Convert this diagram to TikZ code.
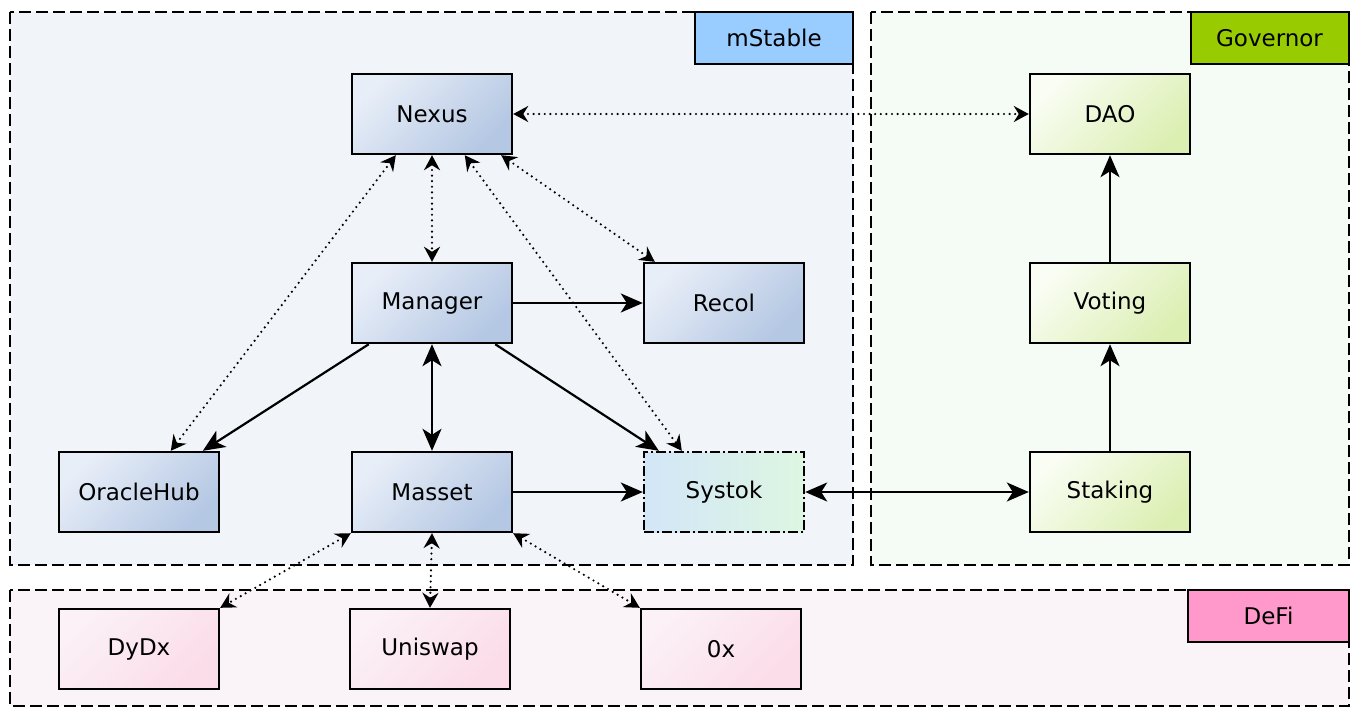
\documentclass[tikz,border=0pt]{standalone}
\usepackage{fontspec}
\usetikzlibrary{arrows.meta,calc}
\newfontfamily\nodefont{DejaVu Sans}
\definecolor{msfill}{HTML}{F1F4F9}
\definecolor{govfill}{HTML}{F5FCF5}
\definecolor{defifill}{HTML}{FAF3F7}
\definecolor{mslab}{HTML}{99CCFF}
\definecolor{govlab}{HTML}{99CC00}
\definecolor{defilab}{HTML}{FF99CC}
\definecolor{msA}{HTML}{E8EEF8}
\definecolor{msB}{HTML}{B4C7E3}
\definecolor{govA}{HTML}{F9FDF3}
\definecolor{govB}{HTML}{DCEFB3}
\definecolor{defiA}{HTML}{FBF1F6}
\definecolor{defiB}{HTML}{FBDCE9}
\definecolor{sysA}{HTML}{D3E6F8}
\definecolor{sysB}{HTML}{DDF6E2}
\tikzset{
  cluster/.style={draw=black, line width=1.1pt, dash pattern=on 6pt off 2.5pt},
  lab/.style={draw=black, line width=1pt, minimum width=79pt, minimum height=26pt, inner sep=0pt,
    font=\nodefont\fontsize{11.5}{14}\selectfont},
  box/.style={draw=black, line width=1.2pt, minimum width=80pt, minimum height=40pt, inner sep=0pt,
    font=\nodefont\fontsize{11.5}{14}\selectfont},
  msbox/.style={box, top color=msA, bottom color=msB, shading angle=45},
  govbox/.style={box, top color=govA, bottom color=govB, shading angle=45},
  defibox/.style={box, top color=defiA, bottom color=defiB, shading angle=45},
  sysbox/.style={box, top color=sysA, bottom color=sysB, shading angle=90, dash pattern=on 5pt off 1.5pt on 1pt off 1.5pt},
  solidarrow/.style={line width=1.1pt, -{Stealth[length=11pt,width=9.5pt,inset=3pt]}},
  solidboth/.style={line width=1.1pt, {Stealth[length=11pt,width=9.5pt,inset=3pt]}-{Stealth[length=11pt,width=9.5pt,inset=3pt]}},
  dotboth/.style={line width=1.2pt, line cap=round, dash pattern=on 0pt off 2.8pt,
    {Stealth[length=7.5pt,width=8pt,inset=2.5pt]}-{Stealth[length=7.5pt,width=8pt,inset=2.5pt]}},
}
\begin{document}
\begin{tikzpicture}[x=0.5pt,y=-0.5pt]
\useasboundingbox (0,0) rectangle (1360,724);
\fill[white] (0,0) rectangle (1360,724);
% clusters
\draw[cluster, fill=msfill] (10,12) rectangle (853,565);
\draw[cluster, fill=govfill] (871,12) rectangle (1349,565);
\draw[cluster, fill=defifill] (10,590) rectangle (1349,706);
\node[lab, fill=mslab] (labms) at (774,38) {mStable};
\node[lab, fill=govlab] (labgov) at (1269.5,38) {Governor};
\node[lab, fill=defilab, minimum width=80.5pt] (labdefi) at (1268.5,616) {DeFi};
% nodes
\node[msbox] (nexus) at (432,114) {Nexus};
\node[msbox] (manager) at (432,303) {Manager};
\node[msbox] (recol) at (724,303) {Recol};
\node[msbox] (oracle) at (139,492) {OracleHub};
\node[msbox] (masset) at (432,492) {Masset};
\node[sysbox] (systok) at (724,492) {Systok};
\node[govbox] (dao) at (1110,114) {DAO};
\node[govbox] (voting) at (1110,303) {Voting};
\node[govbox] (staking) at (1110,492) {Staking};
\node[defibox] (dydx) at (139,649) {DyDx};
\node[defibox] (uniswap) at (430,649) {Uniswap};
\node[defibox] (zerox) at (721,649) {0x};
% dotted connectors
\draw[dotboth] (nexus.east) -- (dao.west);
\draw[dotboth] (nexus.south) -- (manager.north);
\draw[dotboth] ($(nexus.south east)+(-12,0)$) -- ($(recol.north west)+(12,0)$);
\draw[dotboth] ($(nexus.south west)+(45,0)$) -- ($(oracle.north west)+(113,0)$);
\draw[dotboth] ($(nexus.south west)+(114,0)$) -- ($(systok.north west)+(39,0)$);
\draw[dotboth] (masset.south west) -- (dydx.north east);
\draw[dotboth] (masset.south) -- (uniswap.north);
\draw[dotboth] (masset.south east) -- (zerox.north west);
% solid connectors
\draw[solidarrow] (manager.east) -- (recol.west);
\draw[solidarrow] ($(manager.south west)+(18,0)$) -- ($(oracle.north west)+(145,0)$);
\draw[solidboth] (manager.south) -- (masset.north);
\draw[solidarrow] ($(manager.south east)+(-18,0)$) -- ($(systok.north west)+(16,0)$);
\draw[solidarrow] (masset.east) -- (systok.west);
\draw[solidboth] (systok.east) -- (staking.west);
\draw[solidarrow] (staking.north) -- (voting.south);
\draw[solidarrow] (voting.north) -- (dao.south);
\end{tikzpicture}
\end{document}
